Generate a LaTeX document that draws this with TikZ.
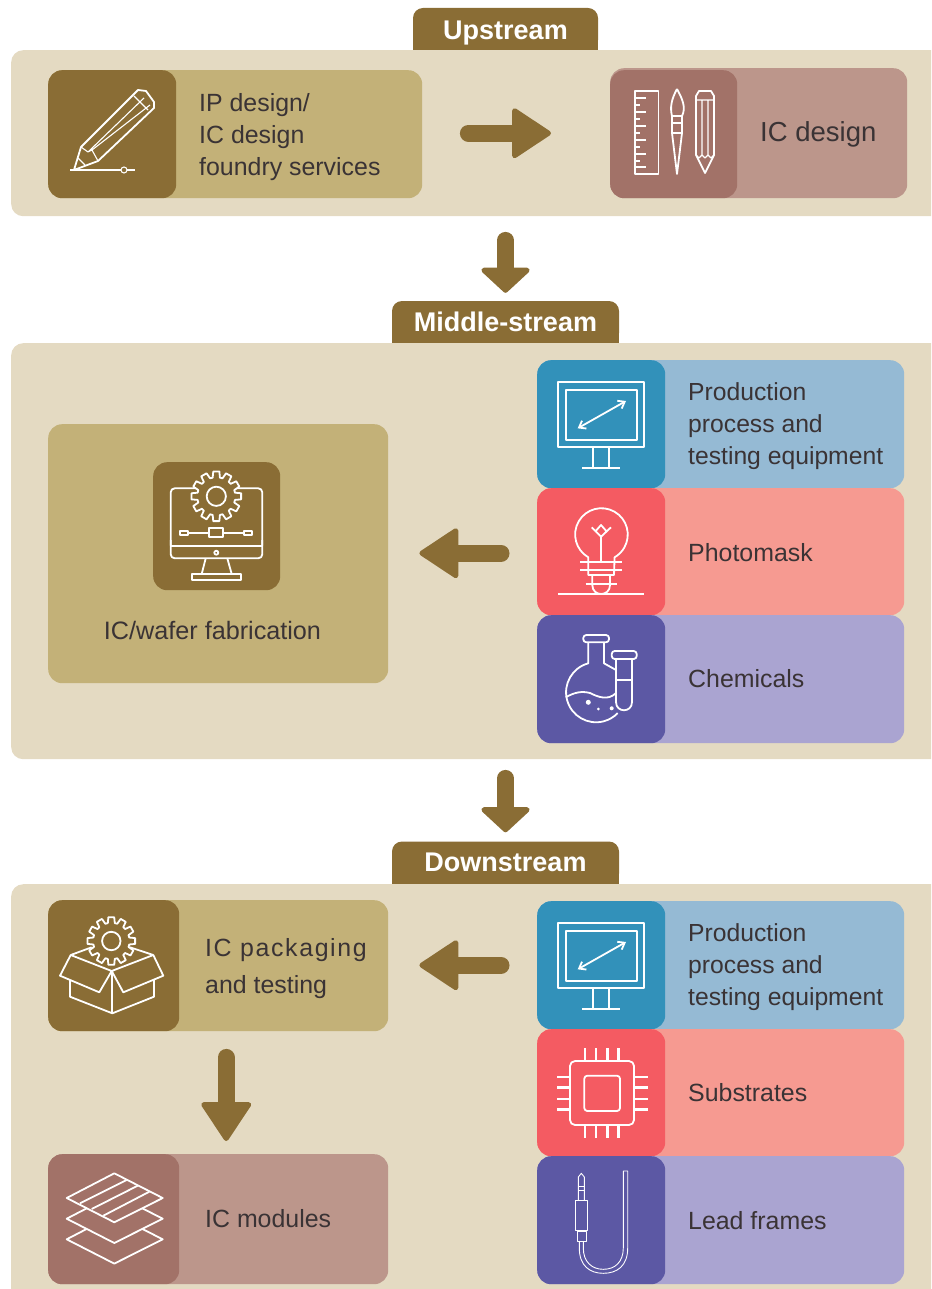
\documentclass[tikz,border=0pt]{standalone}
\usepackage{xcolor}
\usepackage{fontspec}
\setmainfont{Liberation Sans}
\usetikzlibrary{arrows.meta}

\definecolor{paneltan}{HTML}{E4DAC2}
\definecolor{brownd}{HTML}{8A6D35}
\definecolor{brownl}{HTML}{C3B178}
\definecolor{moved}{HTML}{A27268}
\definecolor{movel}{HTML}{BC968B}
\definecolor{blued}{HTML}{3291BA}
\definecolor{bluel}{HTML}{95BAD4}
\definecolor{redd}{HTML}{F45B62}
\definecolor{redl}{HTML}{F69A91}
\definecolor{purpled}{HTML}{5C58A4}
\definecolor{purplel}{HTML}{AAA4D1}
\definecolor{inktext}{HTML}{3A3335}

\tikzset{
  font={\fontsize{24.9pt}{32pt}\selectfont},
  panel/.style = {fill=paneltan, rounded corners=12pt, anchor=north west, inner sep=0pt},
  tabbox/.style = {fill=brownd, rounded corners=10pt, inner sep=0pt},
  tablabel/.style = {anchor=base, inner sep=0pt, text=white,
    font={\fontsize{27pt}{32pt}\selectfont\bfseries}},
  card/.style = {rounded corners=14pt, anchor=north west, inner sep=0pt},
  cardtext/.style = {anchor=west, align=left, inner sep=0pt, text=inktext},
  icon/.style = {white, line width=1.8pt, line join=round},
  thin icon/.style = {white, line width=.9pt, line join=round},
  hflow/.style = {brownd, line width=17pt, line cap=round,
    -{Triangle[length=41pt,width=53pt,line width=5pt,round]}},
  vflow/.style = {brownd, line width=17pt, line cap=round,
    -{Triangle[length=26pt,width=55pt,line width=5pt,round]}},
  pics/gear/.style = {code={
    \draw[icon, fill=#1] (-11:19) \foreach \a in {0,30,...,330} {
        -- ({\a-11}:19) -- ({\a-7}:25) -- ({\a+7}:25) -- ({\a+11}:19)} -- cycle;
    \draw[icon] (0,0) circle [radius=9.6];
  }},
  pics/screen/.style = {code={
    \draw[icon] (-42.7,-42.7) rectangle (43,22.3);
    \draw[icon] (-35,-35) rectangle (35.7,15.3);
    \draw[icon] (-7.7,22.3) -- (-7.7,42.7) (7.7,22.3) -- (7.7,42.7);
    \draw[icon] (-18.7,42.7) -- (19.3,42.7);
    \draw[icon, <->, >={Straight Barb[length=6pt,width=9pt]}] (-23.3,3.3) -- (25,-24);
  }}
}

\begin{document}
\begin{tikzpicture}[x=1pt,y=-1pt]

    \useasboundingbox (0,0) rectangle (931,1289);
    \clip (0,0) rectangle (931,1289);

    % tabs
    \node[tabbox, minimum width=185pt, minimum height=42pt] (uptab) at (505.5,29) {};
    \node[tabbox, minimum width=227pt, minimum height=42pt] (midtab) at (505.5,322) {};
    \node[tabbox, minimum width=227pt, minimum height=42pt] (downtab) at (505.5,862.5) {};
    \foreach \t in {uptab,midtab,downtab}
        \fill[brownd] (\t.west) rectangle (\t.south east);
    \node[tablabel] (uplabel) at (505.5,40) {Upstream};
    \node[tablabel] (midlabel) at (505.5,331) {Middle-stream};
    \node[tablabel] (downlabel) at (505.5,871) {Downstream};

    % panels
    \node[panel, minimum width=960pt, minimum height=166pt] (uppanel) at (11,50) {};
    \node[panel, minimum width=960pt, minimum height=416pt] (midpanel) at (11,343) {};
    \node[panel, minimum width=960pt, minimum height=440pt] (downpanel) at (11,884) {};

    % cards
    \node[card, fill=brownl, minimum width=374pt, minimum height=128pt] (ipcard) at (48,70) {};
    \node[card, fill=brownd, minimum width=128pt, minimum height=128pt] (ipicon) at (48,70) {};
    \node[card, fill=movel, minimum width=297pt, minimum height=130pt] (iccard) at (610,68) {};
    \node[card, fill=moved, minimum width=127pt, minimum height=128pt] (icicon) at (610,70) {};

    \node[card, fill=brownl, minimum width=340pt, minimum height=259pt] (fabcard) at (48,424) {};
    \node[card, fill=brownd, minimum width=127pt, minimum height=128pt] (fabicon) at (153,462) {};

    \node[card, fill=bluel, minimum width=367pt, minimum height=128pt] (equipcard) at (537,360) {};
    \node[card, fill=blued, minimum width=128pt, minimum height=128pt] (equipicon) at (537,360) {};
    \node[card, fill=redl, minimum width=367pt, minimum height=127pt] (maskcard) at (537,488) {};
    \node[card, fill=redd, minimum width=128pt, minimum height=127pt] (maskicon) at (537,488) {};
    \node[card, fill=purplel, minimum width=367pt, minimum height=128pt] (chemcard) at (537,615) {};
    \node[card, fill=purpled, minimum width=128pt, minimum height=128pt] (chemicon) at (537,615) {};

    \node[card, fill=brownl, minimum width=340pt, minimum height=131pt] (packcard) at (48,900) {};
    \node[card, fill=brownd, minimum width=131pt, minimum height=131pt] (packicon) at (48,900) {};
    \node[card, fill=movel, minimum width=340pt, minimum height=130pt] (modcard) at (48,1154) {};
    \node[card, fill=moved, minimum width=131pt, minimum height=130pt] (modicon) at (48,1154) {};

    \node[card, fill=bluel, minimum width=367pt, minimum height=128pt] (equipcardb) at (537,901) {};
    \node[card, fill=blued, minimum width=128pt, minimum height=128pt] (equipiconb) at (537,901) {};
    \node[card, fill=redl, minimum width=367pt, minimum height=127pt] (subcard) at (537,1029) {};
    \node[card, fill=redd, minimum width=128pt, minimum height=127pt] (subicon) at (537,1029) {};
    \node[card, fill=purplel, minimum width=367pt, minimum height=128pt] (leadcard) at (537,1156) {};
    \node[card, fill=purpled, minimum width=128pt, minimum height=128pt] (leadicon) at (537,1156) {};

    % texts
    \node[cardtext] (iptext) at (199,137) {IP design/\\IC design\\foundry services};
    \node[cardtext, font={\fontsize{27.5pt}{32pt}\selectfont}] (ictext) at (760,134) {IC design};
    \node[cardtext, anchor=center, font={\fontsize{25.2pt}{32pt}\selectfont}] (fabtext) at (212.5,630) {IC/wafer fabrication};
    \node[cardtext, font={\fontsize{24.7pt}{32pt}\selectfont}] (equiptext) at (688,426) {Production\\process and\\testing equipment};
    \node[cardtext] (masktext) at (688,553) {Photomask};
    \node[cardtext] (chemtext) at (688,679) {Chemicals};
    \node[cardtext, font={\fontsize{24.9pt}{37pt}\selectfont}] (packtext) at (205,969)
        {{\addfontfeature{LetterSpace=6.5}IC packaging}\\and testing};
    \node[cardtext] (modtext) at (205,1219) {IC modules};
    \node[cardtext, font={\fontsize{24.7pt}{32pt}\selectfont}] (equiptextb) at (688,967) {Production\\process and\\testing equipment};
    \node[cardtext] (subtext) at (688,1093) {Substrates};
    \node[cardtext] (leadtext) at (688,1221) {Lead frames};

    % pencil icon
    \draw[icon] (74,170) -- (81,147) -- (138,90) -- (146,91) -- (154,102) -- (154,108) -- (98,161) -- cycle;
    \draw[icon, line width=1.1pt] (81,147) -- (88,152) -- (92,150) -- (98,161)
        (88,152) -- (144,98) (92,150) -- (150,105) (134,96) -- (148,110) (78,158) -- (85,165);
    \draw[icon, line width=1.1pt] (70,170) -- (121,170) (127,170) -- (135,170);
    \draw[icon, line width=1.1pt] (124,170) circle [radius=3];

    % ruler, brush, pencil icon
    \draw[icon] (635,91) rectangle (658.5,174);
    \foreach \y in {98,112,126,140,154,167}
        \draw[icon, line width=1.2pt] (635,\y) -- (646,\y);
    \foreach \y in {105,119,133,147,161}
        \draw[icon, line width=1.2pt] (635,\y) -- (640,\y);
    \draw[icon] (677,89) .. controls (671,100) and (670,108) .. (672,116) -- (682,116)
        .. controls (686,108) and (683,100) .. (677,89);
    \draw[icon] (672,116) rectangle (682,133);
    \draw[icon] (672,123) -- (682,123);
    \draw[icon] (672,133) -- (677,174) -- (682,133);
    \draw[icon] (696,155) -- (696,96) -- (699,91) -- (711,91) -- (714,96) -- (714,155) -- (705,173) -- cycle;
    \draw[icon, line width=1.1pt] (696,100) -- (714,100)
        (702,100) -- (702,155) (708,100) -- (708,155)
        (696,155) -- (699,158) -- (702,155) -- (705,158) -- (708,155) -- (711,158) -- (714,155);

    % fab icon
    \draw[icon, rounded corners=4pt] (170.7,545.7) -- (170.7,488.3) -- (262.3,488.3) -- (262.3,545.7);
    \draw[icon, rounded corners=4pt] (170.7,540) -- (170.7,558.3) -- (262.3,558.3) -- (262.3,540);
    \draw[icon] (170.7,545.7) -- (262.3,545.7);
    \draw[icon] (216.3,552.7) circle [radius=2];
    \draw[icon] (205.7,558.3) -- (201.7,574) (227.3,558.3) -- (231.7,574);
    \draw[icon] (192,574) rectangle (241,580);
    \draw[icon] (188,532.7) -- (209,532.7) (223.3,532.7) -- (244.3,532.7);
    \draw[icon] (180,530.7) rectangle (188,535);
    \draw[icon] (209,528.3) rectangle (223.3,537.3);
    \draw[icon] (244.3,530.7) rectangle (252.3,535);
    \pic at (216.3,496.3) {gear=brownd};

    % monitor icons
    \pic at (601,425) {screen};
    \pic at (601,966) {screen};

    % bulb icon
    \draw[icon] (588.3,575) -- (588.3,557.3) arc[start angle=120, end angle=420, radius=26.3] -- (614,575) -- cycle;
    \draw[icon] (580,562.3) -- (622.3,562.3) (580,570) -- (622.3,570) (585.7,584.3) -- (617,584.3);
    \draw[icon] (592.3,575) -- (592.3,585) .. controls (592.3,597) and (610,597) .. (610,585) -- (610,575);
    \draw[icon] (558.3,594) -- (644.3,594);
    \draw[icon] (601,562.3) -- (601,536.7) (591.7,527.3) -- (601,536.7) -- (611,527.3)
        (596,530.7) -- (601,525) -- (606,530.7);

    % flask icon
    \draw[icon, rounded corners=3pt] (583.3,635) rectangle (609,642.3);
    \draw[icon] (604,642.3) -- (604,663.3) -- (616,670);
    \draw[icon] (588.3,642.3) -- (588.3,663.3) arc[start angle=255, end angle=44, radius=30];
    \draw[icon, rounded corners=3pt] (611.7,651) rectangle (636.7,659);
    \draw[icon] (616,659) -- (616,702) .. controls (616,713) and (632,713) .. (632,702) -- (632,659);
    \draw[icon] (616,680) -- (633,680);
    \draw[icon] (565.7,697.3) .. controls (575,692) and (582,691) .. (590,693)
        .. controls (598,697) and (608,701) .. (616,693);
    \fill[white] (588.3,702.3) circle [radius=2.5] (598.3,709) circle [radius=1.5] (611.7,708.3) circle [radius=2];

    % box icon
    \draw[icon] (70,980) -- (70,996.7) -- (112.3,1013.3) -- (154,996.7) -- (154,980);
    \draw[icon] (112.3,971) -- (112.3,1013.3);
    \draw[icon] (70.7,955) -- (60,975.7) -- (99.3,992.3) -- (111.7,971) -- cycle;
    \draw[icon] (153.3,955) -- (163.3,975.7) -- (123.3,992.3) -- (111.7,971) -- cycle;
    \draw[icon] (70.7,955) -- (91.7,947.3) (153.3,955) -- (130,947.3);
    \pic[scale=.96] at (111.3,941) {gear=brownd};

    % layers icon
    \foreach \s in {41.3,20.7,0}
        \draw[icon, fill=moved] (114.3,1173.3+\s) -- (162.7,1198+\s) -- (114.3,1222.3+\s) -- (66.7,1198+\s) -- cycle;
    \draw[icon] (80,1203.3) -- (126.7,1180) (91.7,1209) -- (137.7,1185.7) (103.3,1215.7) -- (149.3,1191.7);

    % chip icon
    \draw[icon, rounded corners=5pt] (570,1061) rectangle (634,1125);
    \draw[icon, rounded corners=3pt] (584.3,1075.7) rectangle (620,1111);
    \foreach \x in {585,596,607.3,618.3}
        \draw[icon, line width=2.4pt] (\x,1048.3) -- (\x,1061) (\x,1125) -- (\x,1137.7);
    \foreach \y in {1076.7,1087.3,1099,1109.3}
        \draw[icon, line width=2.4pt] (557.3,\y) -- (570,\y) (634,\y) -- (648,\y);

    % jack icon
    \draw[thin icon] (578.3,1200) -- (578.3,1177) -- (581.3,1173.3) -- (584.3,1177) -- (584.3,1200);
    \draw[thin icon] (578.3,1186) -- (584.3,1186) (578.3,1190) -- (584.3,1190);
    \draw[thin icon] (575.7,1200) rectangle (587.3,1230);
    \draw[thin icon] (577.7,1231.7) rectangle (586,1241.7);
    \draw[thin icon] (579.3,1241.7) -- (579.3,1248) .. controls (579.3,1266) and (590,1273.3) .. (603.3,1273.3)
        .. controls (617,1273.3) and (627.7,1266) .. (627.7,1248) -- (627.7,1171) -- (623.3,1171) -- (623.3,1248)
        .. controls (623.3,1262) and (615,1269.3) .. (603.3,1269.3)
        .. controls (592,1269.3) and (583.3,1262) .. (583.3,1248) -- (583.3,1241.7);

    % flows
    \draw[hflow, shorten <=46pt, shorten >=59pt] (ipcard.east |- iccard.west) to (iccard.west);
    \draw[vflow, shorten <=24pt, shorten >=8pt] (uptab.south |- uppanel.south) to (midtab.north);
    \draw[vflow, shorten <=19pt, shorten >=9pt] (midtab.south |- midpanel.south) to (downtab.north);
    \draw[hflow, shorten <=36pt, shorten >=31pt] ([yshift=-1.5pt]equipcard.west |- maskcard.west) to ([yshift=-1.5pt]fabcard.east |- maskcard.west);
    \draw[hflow, shorten <=36pt, shorten >=31pt] (equipcardb.west) to (packcard.east |- equipcardb.west);
    \draw[hflow, shorten <=26pt, shorten >=13pt] ([xshift=8pt]packcard.south) to ([xshift=8pt]modcard.north);

\end{tikzpicture}
\end{document}
